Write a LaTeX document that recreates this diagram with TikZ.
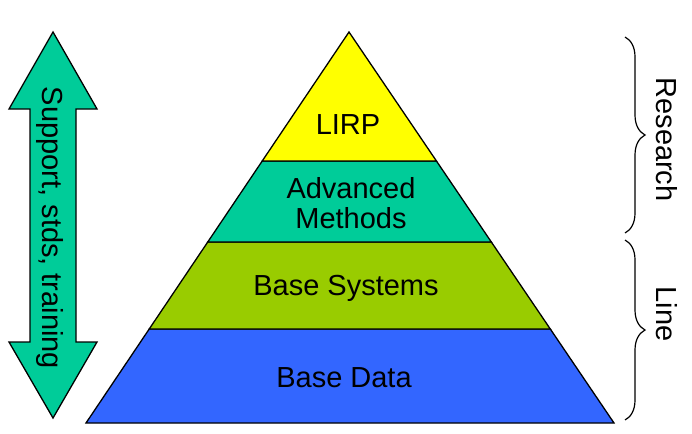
\documentclass[tikz,border=0pt]{standalone}
\usepackage{fontspec}
\setmainfont{Liberation Sans}
\usetikzlibrary{calc,decorations.pathreplacing}
\definecolor{lirpc}{HTML}{FFFF00}
\definecolor{advc}{HTML}{00CC99}
\definecolor{sysc}{HTML}{99CC00}
\definecolor{datc}{HTML}{3366FF}
\definecolor{arrc}{HTML}{00CC99}
\begin{document}
\begin{tikzpicture}[x=1pt,y=-1pt,
  band/.style={draw=black, line width=1.3pt, line join=miter},
  lbl/.style={font=\fontsize{29}{30}\selectfont, align=center, inner sep=0pt, text=black},
  bracestyle/.style={draw=black, line width=1.2pt, decorate, decoration={brace, amplitude=20pt}}]
\useasboundingbox (0,0) rectangle (692,433);
% pyramid corners
\coordinate (apex) at (349,32);
\coordinate (bl) at (86,423);
\coordinate (br) at (614,423);
\coordinate (l1) at ($(apex)!0.3299!(bl)$);
\coordinate (r1) at ($(apex)!0.3299!(br)$);
\coordinate (l2) at ($(apex)!0.5371!(bl)$);
\coordinate (r2) at ($(apex)!0.5371!(br)$);
\coordinate (l3) at ($(apex)!0.7596!(bl)$);
\coordinate (r3) at ($(apex)!0.7596!(br)$);
% bands
\filldraw[band, fill=datc] (l3) -- (r3) -- (br) -- (bl) -- cycle;
\filldraw[band, fill=sysc] (l2) -- (r2) -- (r3) -- (l3) -- cycle;
\filldraw[band, fill=advc] (l1) -- (r1) -- (r2) -- (l2) -- cycle;
\filldraw[band, fill=lirpc] (apex) -- (r1) -- (l1) -- cycle;
% labels
\node[lbl] (lirp) at (348,124.5) {LIRP};
\node[lbl] (adv) at (351,203) {Advanced\\Methods};
\node[lbl] (sys) at (346,288) {Base Systems};
\node[lbl] (dat) at (344,377.5) {Base Data};
% double arrow
\filldraw[band, fill=arrc] (53,32) -- (97,109) -- (76,109) -- (76,342) -- (97,342) -- (53,418) -- (9,342) -- (30,342) -- (30,109) -- (9,109) -- cycle;
\node[lbl, rotate=-90] (sup) at (50,228) {Support, stds, training};
% braces
\coordinate (b1t) at (625,37);
\coordinate (b1b) at (625,233);
\coordinate (b2t) at (625,240);
\coordinate (b2b) at (625,420);
\draw[bracestyle] (b1t) -- (b1b);
\draw[bracestyle] (b2t) -- (b2b);
\node[lbl, rotate=-90] (res) at (667,139.5) {Research};
\node[lbl, rotate=-90] (line) at (667,314) {Line};
\end{tikzpicture}
\end{document}
